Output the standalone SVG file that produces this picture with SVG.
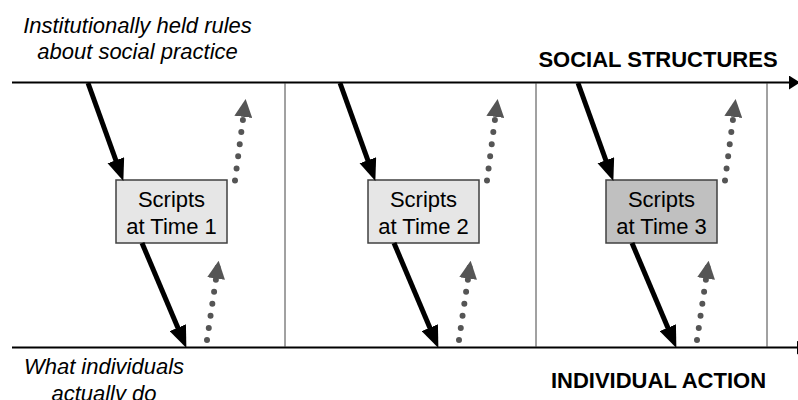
<svg xmlns="http://www.w3.org/2000/svg" width="798" height="400" viewBox="0 0 798 400">
<style>
.it{font-family:"Liberation Sans",Arial,sans-serif;font-style:italic;font-size:22px;fill:#000;text-anchor:middle}
.bd{font-family:"Liberation Sans",Arial,sans-serif;font-weight:bold;font-size:22px;fill:#000;text-anchor:middle}
.bx{font-family:"Liberation Sans",Arial,sans-serif;font-size:22px;fill:#000;text-anchor:middle}
.axis{stroke:#000;stroke-width:2;fill:none}
.div{stroke:#444;stroke-width:1;fill:none}
.solid{stroke:#000;stroke-width:5;fill:none;marker-end:url(#ah)}
.dot{stroke:#555;stroke-width:6;fill:none;stroke-linecap:round;stroke-dasharray:0 12.2;marker-end:url(#dh)}
.light{fill:#e6e6e6;stroke:#404040;stroke-width:1.5}
.dark{fill:#c0c0c0;stroke:#404040;stroke-width:1.5}
</style>
<defs>
<marker id="ah" markerUnits="userSpaceOnUse" markerWidth="22" markerHeight="18" viewBox="0 0 20 16" refX="10" refY="8" orient="auto"><path d="M0,0 L20,8 L0,16 z" fill="#000"/></marker>
<marker id="dh" markerUnits="userSpaceOnUse" markerWidth="18" markerHeight="18" viewBox="0 0 17 17" refX="16" refY="8.5" orient="auto"><path d="M0,0 L17,8.5 L0,17 z" fill="#555"/></marker>
<marker id="axh" markerUnits="userSpaceOnUse" markerWidth="12" markerHeight="14" viewBox="0 0 10 13" refX="0" refY="6.5" orient="auto"><path d="M0,0 L10,6.5 L0,13 z" fill="#000"/></marker>
</defs>
<g id="axes">
<line class="axis" x1="12" y1="82.5" x2="789" y2="82.5" marker-end="url(#axh)"/>
<line class="axis" x1="12" y1="347.5" x2="797" y2="347.5" marker-end="url(#axh)"/>
<line class="div" x1="285" y1="83" x2="285" y2="347"/>
<line class="div" x1="536" y1="83" x2="536" y2="347"/>
<line class="div" x1="767" y1="83" x2="767" y2="347"/>
</g>
<g id="labels">
<text class="it" x="137.5" y="33">Institutionally held rules</text>
<text class="it" x="137.5" y="59">about social practice</text>
<text class="it" x="104" y="374">What individuals</text>
<text class="it" x="104" y="401">actually do</text>
<text class="bd" x="658" y="67">SOCIAL STRUCTURES</text>
<text class="bd" x="658.5" y="388">INDIVIDUAL ACTION</text>
</g>
<g id="node1">
<rect class="light" x="116" y="180" width="111" height="63"/>
<text class="bx" x="171.5" y="207">Scripts</text>
<text class="bx" x="171.5" y="234">at Time 1</text>
</g>
<g id="node2">
<rect class="light" x="368" y="180" width="111" height="63"/>
<text class="bx" x="423.5" y="207">Scripts</text>
<text class="bx" x="423.5" y="234">at Time 2</text>
</g>
<g id="node3">
<rect class="dark" x="606" y="180" width="111" height="63"/>
<text class="bx" x="661.5" y="207">Scripts</text>
<text class="bx" x="661.5" y="234">at Time 3</text>
</g>
<g id="connectors">
<line class="solid" x1="88" y1="83" x2="119.6" y2="170.6"/>
<line class="solid" x1="142" y1="243" x2="182.1" y2="337.8"/>
<line class="dot" x1="207" y1="340" x2="218.5" y2="261.8"/>
<line class="dot" x1="235" y1="180.5" x2="245.5" y2="100"/>
<g transform="translate(252,0)">
<line class="solid" x1="88" y1="83" x2="119.6" y2="170.6"/>
<line class="solid" x1="142" y1="243" x2="182.1" y2="337.8"/>
<line class="dot" x1="207" y1="340" x2="218.5" y2="261.8"/>
<line class="dot" x1="235" y1="180.5" x2="245.5" y2="100"/>
</g>
<g transform="translate(490,0)">
<line class="solid" x1="88" y1="83" x2="119.6" y2="170.6"/>
<line class="solid" x1="142" y1="243" x2="182.1" y2="337.8"/>
<line class="dot" x1="207" y1="340" x2="218.5" y2="261.8"/>
<line class="dot" x1="235" y1="180.5" x2="245.5" y2="100"/>
</g>
</g>
</svg>
